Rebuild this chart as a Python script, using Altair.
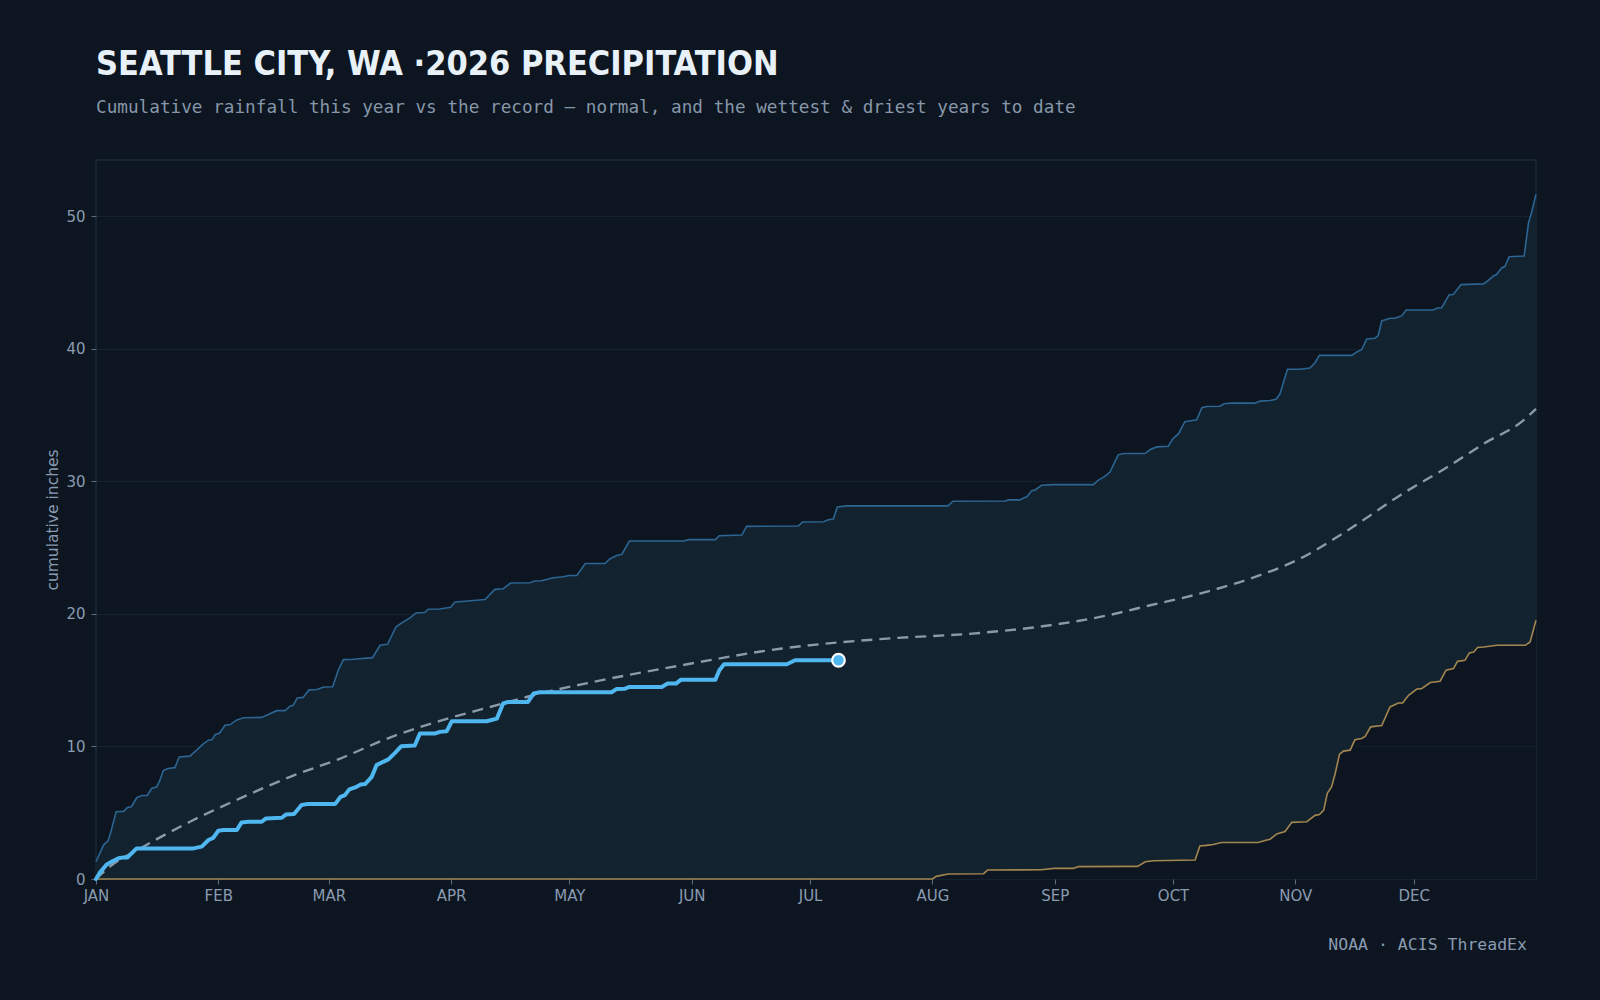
import json
import altair as alt
import pandas as pd

# ---------------- data ----------------
MONTHS = ["JAN", "FEB", "MAR", "APR", "MAY", "JUN", "JUL", "AUG", "SEP", "OCT", "NOV", "DEC"]
MONTH_START = [0, 31, 59, 90, 120, 151, 181, 212, 243, 273, 304, 334]
Y_TICKS = [0, 10, 20, 30, 40, 50]

wet_day = [0, 1.9, 3.1, 3.9, 5.1, 7, 8, 9, 10.3, 11.6, 13, 14.1, 15.4, 16.1, 17.1, 18.3, 20, 21.1,
           23.8, 25.5, 27.2, 28.5, 29.4, 30.2, 31.3, 32.7, 34, 35.7, 37.4, 42, 44.5, 45.8, 47.9,
           49.2, 50, 51, 52.5, 54, 56, 57.7, 60, 61.4, 62.7, 65.2, 70.1, 72, 73.9, 76, 77.4, 79.6,
           81.1, 83.3, 84.2, 87.1, 89.9, 91, 93.5, 98.6, 101.1, 103.2, 105.1, 110, 111.2, 112.9,
           115.9, 118.4, 120, 121.9, 124, 129, 130.3, 132, 133.3, 135.2, 148.9, 150.2, 157, 158,
           163.7, 164.9, 178, 179.1, 184.4, 185.6, 186.9, 187.9, 190.3, 216, 217.2, 230.5, 231.3,
           234.1, 236, 237.2, 238, 239.7, 242.7, 252.8, 254, 255.7, 257, 259.1, 260.4, 265.9,
           267.2, 268.9, 271.8, 272.9, 274.4, 276, 279, 280.3, 281.5, 284.9, 285.9, 287.9, 293.8,
           295, 297.6, 299.1, 300.1, 302, 305.2, 307.7, 309, 310.1, 318.3, 319.4, 320.8, 322.1,
           324.2, 325, 325.9, 328, 329.3, 331, 332.1, 339, 340, 341.1, 343, 344, 346, 351.7, 352.7,
           354.2, 355, 356.3, 357.1, 358.2, 362, 363.1, 363.9, 365]
wet_val = [1.3, 2.56, 2.9, 3.7, 5.07, 5.1, 5.4, 5.45, 6.13, 6.3, 6.3, 6.83, 6.96, 7.38, 8.2, 8.34, 8.4,
           9.2, 9.27, 9.72, 10.2, 10.47, 10.5, 10.9, 11.0, 11.6, 11.65, 12.0, 12.16, 12.19, 12.53,
           12.7, 12.7, 13.04, 13.1, 13.66, 13.7, 14.27, 14.3, 14.49, 14.5, 15.75, 16.55, 16.58,
           16.7, 17.63, 17.7, 19.0, 19.3, 19.7, 20.07, 20.1, 20.35, 20.37, 20.5, 20.9, 20.95, 21.08,
           21.85, 21.9, 22.33, 22.35, 22.48, 22.5, 22.73, 22.8, 22.9, 22.9, 23.8, 23.8, 24.16, 24.4,
           24.5, 25.5, 25.5, 25.6, 25.6, 25.9, 25.95, 26.6, 26.63, 26.93, 26.95, 27.1, 27.16, 28.06,
           28.15, 28.15, 28.5, 28.52, 28.6, 28.6, 28.85, 29.3, 29.35, 29.7, 29.75, 29.75, 30.07,
           30.37, 30.7, 32.0, 32.1, 32.1, 32.4, 32.6, 32.65, 33.2, 33.6, 34.5, 34.65, 35.55, 35.65,
           35.67, 35.85, 35.9, 35.9, 36.05, 36.1, 36.2, 36.6, 38.46, 38.46, 38.55, 38.95, 39.5,
           39.5, 39.73, 39.93, 40.74, 40.8, 41.0, 42.1, 42.3, 42.3, 42.5, 42.93, 42.93, 43.08, 43.1,
           44.08, 44.1, 44.84, 44.9, 45.1, 45.5, 45.6, 46.1, 46.2, 46.95, 47.0, 49.5, 50.3, 51.66]

dry_day = [0, 212, 213, 216, 225, 226, 239.6, 242.8, 247.7, 249, 264, 266, 268, 278.6, 279.8, 281.5,
           283.2, 285.3, 294.6, 296.3, 297.6, 299.3, 301.4, 303.1, 306.9, 309, 310.1, 311.2, 312.1,
           313.2, 314.1, 315.2, 316.2, 317.9, 319.1, 320.8, 321.7, 323.1, 325.9, 328, 330.1, 331.2,
           332.7, 334.8, 336, 338.2, 340.7, 342.2, 344.1, 345.1, 347, 348.1, 349.2, 350.2, 351.7,
           355.1, 362.3, 363.5, 365]
dry_val = [0, 0, 0.2, 0.38, 0.4, 0.68, 0.7, 0.8, 0.8, 0.93, 0.95, 1.3, 1.38, 1.43, 2.49, 2.54, 2.6,
           2.75, 2.75, 2.9, 3.0, 3.4, 3.58, 4.27, 4.32, 4.8, 4.86, 5.2, 6.46, 6.96, 7.96, 9.42, 9.65,
           9.72, 10.5, 10.6, 10.75, 11.48, 11.58, 12.98, 13.28, 13.28, 13.86, 14.33, 14.36, 14.82,
           14.92, 15.75, 15.87, 16.42, 16.5, 17.06, 17.13, 17.46, 17.5, 17.63, 17.63, 17.88, 19.52]

norm_day = [0, 3.5, 11.2, 23.8, 36.5, 49.2, 61.9, 74.5, 87.2, 99.9, 112.5, 125.2, 148, 173.4, 198.7,
            224, 241.8, 254.5, 267.2, 279.8, 292.5, 305.2, 317.9, 330.5, 343.2, 351.7, 361.8, 365]
norm_val = [0, 0.93, 2.3, 4.32, 6.08, 7.71, 9.09, 10.67, 11.93, 12.98, 13.99, 14.82, 16.1, 17.37,
            18.1, 18.56, 19.14, 19.77, 20.65, 21.53, 22.66, 24.17, 26.43, 28.94, 31.2, 32.83, 34.6,
            35.47]

yr_day = [0, 1, 2.7, 4.4, 5.7, 7, 8, 9, 10.3, 24.7, 26.8, 28.5, 29.7, 31, 32.3, 35.7, 36.9, 38.6, 42,
          43.1, 47.1, 48.2, 50.2, 52.1, 53.4, 60.6, 62, 63.1, 64.2, 65.7, 67.1, 68.2, 69.9, 71.1,
          72.8, 74.1, 75.8, 77.4, 80.8, 82.1, 86, 87.2, 88.9, 90.2, 99, 101.6, 103.2, 104.5, 109.5,
          110.9, 112.5, 130.7, 132, 134.1, 135.2, 143.4, 144.9, 147, 148.3, 157, 158, 159.2, 175.1,
          177.2, 188.2]
yr_val = [0, 0.48, 1.1, 1.38, 1.56, 1.63, 1.63, 1.93, 2.31, 2.31, 2.44, 2.94, 3.1, 3.64, 3.7, 3.7,
          4.27, 4.32, 4.32, 4.57, 4.62, 4.87, 4.9, 5.58, 5.65, 5.65, 6.2, 6.33, 6.76, 6.91, 7.13,
          7.16, 7.71, 8.59, 8.84, 9.02, 9.52, 10.02, 10.07, 10.98, 10.98, 11.1, 11.15, 11.9, 11.9,
          12.1, 13.24, 13.36, 13.36, 13.99, 14.09, 14.09, 14.34, 14.36, 14.49, 14.49, 14.74, 14.74,
          15.04, 15.04, 15.75, 16.2, 16.2, 16.5, 16.5]

TITLE = "SEATTLE CITY, WA ·2026 PRECIPITATION"
SUBTITLE = "Cumulative rainfall this year vs the record — normal, and the wettest & driest years to date"
SOURCE = "NOAA · ACIS ThreadEx"
Y_TITLE = "cumulative inches"

# ---------------- styling ----------------
BG = "#0c1520"
BAND = "#12222f"
GRID = "#13222f"
BORDER = "#172a3b"
WET_C = "#2c6592"
DRY_C = "#a3864f"
NORM_C = "#8a9aa9"
YR_C = "#4fb6f0"
LABEL_C = "#8a9bb0"
W, H = 1440, 719

wet = pd.DataFrame({"day": wet_day, "value": wet_val})
dry = pd.DataFrame({"day": dry_day, "value": dry_val})
norm = pd.DataFrame({"day": norm_day, "value": norm_val})
yr = pd.DataFrame({"day": yr_day, "value": yr_val})
last = yr.tail(1)
ymax = max(wet_val) * 1.05

# faint gridline segment visible below the driest curve
first_i = next(i for i, v in enumerate(dry_val) if v >= 10)
grid_seg = pd.DataFrame({"day": [dry_day[first_i]], "day2": [dry_day[-1]], "value": [10]})

label_expr = "{}[indexof({}, datum.value)]".format(json.dumps(MONTHS), json.dumps(MONTH_START))

X = alt.X("day:Q",
          scale=alt.Scale(domain=[0, 365], nice=False, zero=False),
          axis=alt.Axis(values=MONTH_START, labelExpr=label_expr, title=None, grid=False,
                        domain=False, tickColor="#5d6d7d", tickSize=5, labelPadding=4,
                        labelFlush=False, labelOverlap=False,
                        labelColor=LABEL_C, labelFontSize=15, labelFont="DejaVu Sans"))
Y = alt.Y("value:Q",
          scale=alt.Scale(domain=[0, ymax], nice=False),
          axis=alt.Axis(values=Y_TICKS, title=Y_TITLE, grid=True, gridColor=GRID, gridWidth=1,
                        domain=False, tickColor="#5d6d7d", tickSize=5, labelPadding=6,
                        labelColor=LABEL_C, labelFontSize=15, labelFont="DejaVu Sans",
                        labelFlush=False,
                        titleColor=LABEL_C, titleFontSize=15.5, titleFont="DejaVu Sans",
                        titleFontWeight="normal", titlePadding=5))

band = alt.Chart(wet).mark_area(color=BAND, opacity=1).encode(x=X, y=Y)
dry_fill = alt.Chart(dry).mark_area(color=BG, opacity=1).encode(x=X, y=Y)
seg = alt.Chart(grid_seg).mark_rule(color=GRID, strokeWidth=1).encode(
    x=X, x2="day2:Q", y=Y)
wet_line = alt.Chart(wet).mark_line(color=WET_C, strokeWidth=1.6).encode(x=X, y=Y)
dry_line = alt.Chart(dry).mark_line(color=DRY_C, strokeWidth=1.6).encode(x=X, y=Y)
norm_line = alt.Chart(norm).mark_line(color=NORM_C, strokeWidth=2.4, strokeDash=[11, 7],
                                      interpolate="monotone").encode(x=X, y=Y)
yr_line = alt.Chart(yr).mark_line(color=YR_C, strokeWidth=4, strokeJoin="round",
                                  strokeCap="round").encode(x=X, y=Y)
end_pt = alt.Chart(last).mark_point(filled=True, shape="circle", size=160, fill=YR_C,
                                    stroke="white", strokeWidth=2.2, opacity=1).encode(x=X, y=Y)
source = alt.Chart(pd.DataFrame({"t": [SOURCE]})).mark_text(
    align="right", baseline="alphabetic", font="DejaVu Sans Mono", fontSize=16.5,
    color=LABEL_C).encode(x=alt.value(W - 9), y=alt.value(H + 71), text="t:N")

chart = alt.layer(band, dry_fill, seg, wet_line, dry_line, norm_line, yr_line, end_pt, source).properties(
    width=W, height=H,
    autosize=alt.AutoSizeParams(type="none"),
    padding={"left": 96, "top": 160, "right": 64, "bottom": 121},
    title=alt.TitleParams(
        text=TITLE, subtitle=SUBTITLE, anchor="start", frame="group",
        font="Liberation Sans Narrow, DejaVu Sans Condensed, Roboto Condensed, Roboto",
        fontSize=34, fontWeight="bold", color="#e8f1f8",
        subtitleFont="DejaVu Sans Mono", subtitleFontSize=17.7, subtitleColor="#8797aa",
        subtitlePadding=17, offset=43),
).configure(background=BG).configure_view(stroke=BORDER, strokeWidth=1.5)

chart.save("out.html", embed_options={"renderer": "svg", "actions": False})
